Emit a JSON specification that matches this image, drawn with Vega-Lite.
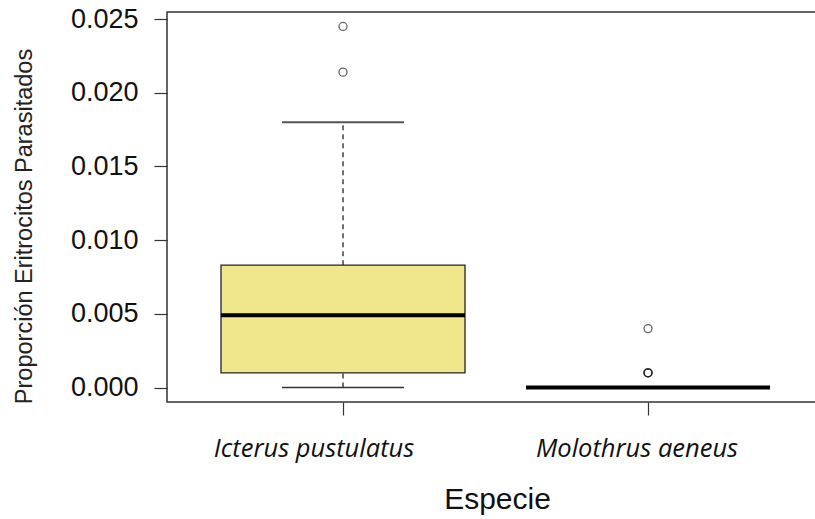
{
  "$schema": "https://vega.github.io/schema/vega-lite/v6.json",
  "width": 649,
  "height": 390,
  "autosize": {"type": "none"},
  "padding": {"left": 167, "top": 12, "right": 0, "bottom": 117},
  "background": "white",
  "config": {
    "view": {"stroke": "#333333", "strokeWidth": 1.5},
    "axis": {"grid": false, "domain": false}
  },
  "datasets": {
    "box": [
      {"especie": "Icterus pustulatus", "min": 0, "q1": 0.001, "median": 0.0049, "q3": 0.0083, "max": 0.018},
      {"especie": "Molothrus aeneus", "min": 0, "q1": 0, "median": 0, "q3": 0, "max": 0}
    ],
    "out": [
      {"especie": "Icterus pustulatus", "valor": 0.0245},
      {"especie": "Icterus pustulatus", "valor": 0.0214},
      {"especie": "Molothrus aeneus", "valor": 0.004},
      {"especie": "Molothrus aeneus", "valor": 0.001},
      {"especie": "Molothrus aeneus", "valor": 0.001},
      {"especie": "Molothrus aeneus", "valor": 0.001}
    ]
  },
  "encoding": {
    "x": {
      "field": "especie",
      "type": "nominal",
      "sort": ["Icterus pustulatus", "Molothrus aeneus"],
      "scale": {"paddingInner": 0, "paddingOuter": 0.0639, "align": 0.603},
      "axis": {
        "title": "Especie",
        "labelAngle": 0,
        "labelLimit": 0,
        "tickSize": 13,
        "tickColor": "#333333",
        "tickWidth": 1.2,
        "labelFont": "Open Sans",
        "labelFontStyle": "italic",
        "labelFontSize": 25.5,
        "labelColor": "#111111",
        "labelPadding": 21,
        "labelBaseline": "top",
        "labelOffset": {"condition": {"test": "datum.value === 'Icterus pustulatus'", "value": -29}, "value": -11},
        "titleFont": "Liberation Sans",
        "titleFontSize": 30,
        "titleFontWeight": "normal",
        "titleColor": "#111111",
        "titleX": 330,
        "titleY": 106,
        "titleBaseline": "alphabetic"
      }
    }
  },
  "layer": [
    {
      "data": {"name": "box"},
      "mark": {"type": "rule", "strokeDash": [5, 4], "color": "#111111", "strokeWidth": 1.2},
      "encoding": {
        "y": {
          "field": "q3",
          "type": "quantitative",
          "scale": {"domain": [-0.00098, 0.02548], "nice": false, "zero": false},
          "axis": {
            "title": "Proporción Eritrocitos Parasitados",
            "values": [0, 0.005, 0.01, 0.015, 0.02, 0.025],
            "format": ".3f",
            "tickSize": 13,
            "tickColor": "#333333",
            "tickWidth": 1.2,
            "labelFont": "Liberation Sans",
            "labelFontSize": 27,
            "labelColor": "#111111",
            "labelPadding": 16,
            "titleFont": "Liberation Sans",
            "titleFontSize": 23.5,
            "titleFontWeight": "normal",
            "titleColor": "#222222",
            "titleAngle": 270,
            "titleX": -143,
            "titleY": 214,
            "titleAlign": "center",
            "titleBaseline": "middle"
          }
        },
        "y2": {"field": "max"}
      }
    },
    {
      "data": {"name": "box"},
      "mark": {"type": "rule", "strokeDash": [5, 4], "color": "#111111", "strokeWidth": 1.2},
      "encoding": {
        "y": {"field": "min", "type": "quantitative"},
        "y2": {"field": "q1"}
      }
    },
    {
      "data": {"name": "box"},
      "mark": {"type": "bar", "width": {"band": 0.8}, "fill": "#F0E68C", "stroke": "#222222", "strokeWidth": 1.3},
      "encoding": {
        "y": {"field": "q1", "type": "quantitative"},
        "y2": {"field": "q3"}
      }
    },
    {
      "data": {"name": "box"},
      "mark": {"type": "tick", "size": 122, "thickness": 2, "color": "#555555", "opacity": 1},
      "encoding": {
        "y": {"field": "max", "type": "quantitative"}
      }
    },
    {
      "data": {"name": "box"},
      "mark": {"type": "tick", "size": 122, "thickness": 1.5, "color": "#333333", "opacity": 1},
      "encoding": {
        "y": {"field": "min", "type": "quantitative"}
      }
    },
    {
      "data": {"name": "box"},
      "mark": {"type": "tick", "size": 244, "thickness": 4, "color": "#000000", "opacity": 1},
      "encoding": {
        "y": {"field": "median", "type": "quantitative"}
      }
    },
    {
      "data": {"name": "out"},
      "mark": {"type": "point", "shape": "circle", "filled": false, "size": 64, "stroke": "#111111", "strokeWidth": 1.3, "opacity": 0.65},
      "encoding": {
        "y": {"field": "valor", "type": "quantitative"}
      }
    }
  ]
}
